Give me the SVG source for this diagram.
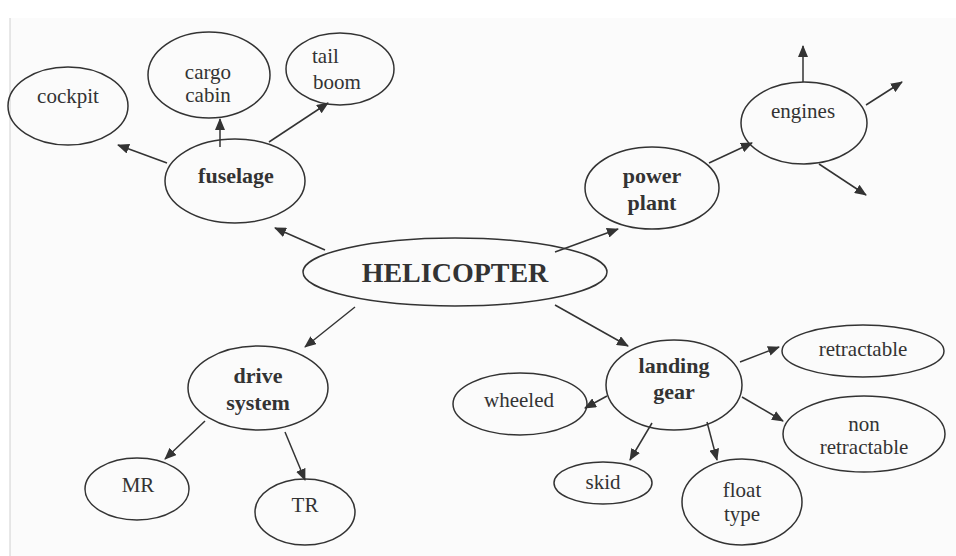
<svg xmlns="http://www.w3.org/2000/svg" width="956" height="556" viewBox="0 0 956 556">
<style>
.n ellipse{fill:none;stroke:#333;stroke-width:1.5}
text{font-family:"Liberation Serif","Times New Roman",serif;fill:#333;text-anchor:middle}
.t{font-size:21px}
.s{text-anchor:start}
.b{font-size:22px;font-weight:bold}
.h{font-size:28px;font-weight:bold}
#connectors line{stroke:#333;stroke-width:1.5;marker-end:url(#ah)}
</style>
<defs>
<marker id="ah" markerWidth="12" markerHeight="10" refX="11" refY="5" orient="auto" markerUnits="userSpaceOnUse">
<path d="M0,0 L12,5 L0,10 z" fill="#333"/>
</marker>
</defs>
<rect x="0" y="0" width="956" height="556" fill="#ffffff"/>
<rect x="10" y="18" width="946" height="538" fill="#fbfbfb"/>
<line x1="10" y1="18" x2="10" y2="556" stroke="#d0d0d0" stroke-width="1"/>
<g id="connectors">
<line x1="325" y1="250" x2="275" y2="228"/>
<line x1="167" y1="163" x2="118" y2="145"/>
<line x1="220" y1="147" x2="220" y2="119"/>
<line x1="269" y1="142" x2="328" y2="103"/>
<line x1="555" y1="252" x2="618" y2="229"/>
<line x1="709" y1="163" x2="752" y2="143"/>
<line x1="803" y1="82" x2="803" y2="46"/>
<line x1="866" y1="105" x2="902" y2="82"/>
<line x1="819" y1="164" x2="866" y2="195"/>
<line x1="355" y1="307" x2="305" y2="347"/>
<line x1="205" y1="421" x2="165" y2="459"/>
<line x1="285" y1="432" x2="305" y2="480"/>
<line x1="555" y1="305" x2="628" y2="346"/>
<line x1="740" y1="362" x2="779" y2="347"/>
<line x1="607" y1="396" x2="585" y2="408"/>
<line x1="742" y1="397" x2="783" y2="421"/>
<line x1="652" y1="423" x2="630" y2="460"/>
<line x1="707" y1="422" x2="717" y2="460"/>
</g>
<g id="helicopter" class="n"><ellipse cx="455" cy="272" rx="152" ry="34"/><text class="h" x="455" y="282">HELICOPTER</text></g>
<g id="fuselage" class="n"><ellipse cx="235" cy="181" rx="70" ry="42"/><text class="b" x="236" y="183">fuselage</text></g>
<g id="cockpit" class="n"><ellipse cx="68" cy="106" rx="60" ry="39"/><text class="t" x="68" y="103">cockpit</text></g>
<g id="cargo-cabin" class="n"><ellipse cx="209" cy="75" rx="61" ry="43"/><text class="t" x="208" y="79">cargo</text><text class="t" x="208" y="102">cabin</text></g>
<g id="tail-boom" class="n"><ellipse cx="340" cy="69" rx="54" ry="36"/><text class="t s" x="312" y="63">tail</text><text class="t s" x="313" y="89">boom</text></g>
<g id="power-plant" class="n"><ellipse cx="652" cy="188" rx="67" ry="41"/><text class="b" x="652" y="183">power</text><text class="b" x="652" y="210">plant</text></g>
<g id="engines" class="n"><ellipse cx="804" cy="123" rx="63" ry="41"/><text class="t" x="803" y="118">engines</text></g>
<g id="drive-system" class="n"><ellipse cx="258" cy="388" rx="70" ry="42"/><text class="b" x="258" y="383">drive</text><text class="b" x="258" y="410">system</text></g>
<g id="mr" class="n"><ellipse cx="137" cy="489" rx="52" ry="31"/><text class="t" x="138" y="492">MR</text></g>
<g id="tr" class="n"><ellipse cx="305" cy="512" rx="50" ry="33"/><text class="t" x="305" y="512">TR</text></g>
<g id="landing-gear" class="n"><ellipse cx="674" cy="385" rx="68" ry="45"/><text class="b" x="674" y="373">landing</text><text class="b" x="674" y="399">gear</text></g>
<g id="retractable" class="n"><ellipse cx="863" cy="351" rx="81" ry="26"/><text class="t" x="863" y="356">retractable</text></g>
<g id="wheeled" class="n"><ellipse cx="520" cy="404" rx="67" ry="31"/><text class="t" x="519" y="407">wheeled</text></g>
<g id="non-retractable" class="n"><ellipse cx="864" cy="434" rx="81" ry="38"/><text class="t" x="864" y="431">non</text><text class="t" x="864" y="454">retractable</text></g>
<g id="skid" class="n"><ellipse cx="603" cy="483" rx="49" ry="21"/><text class="t" x="603" y="489">skid</text></g>
<g id="float-type" class="n"><ellipse cx="742" cy="502" rx="60" ry="43"/><text class="t" x="742" y="497">float</text><text class="t" x="742" y="521">type</text></g>
</svg>
